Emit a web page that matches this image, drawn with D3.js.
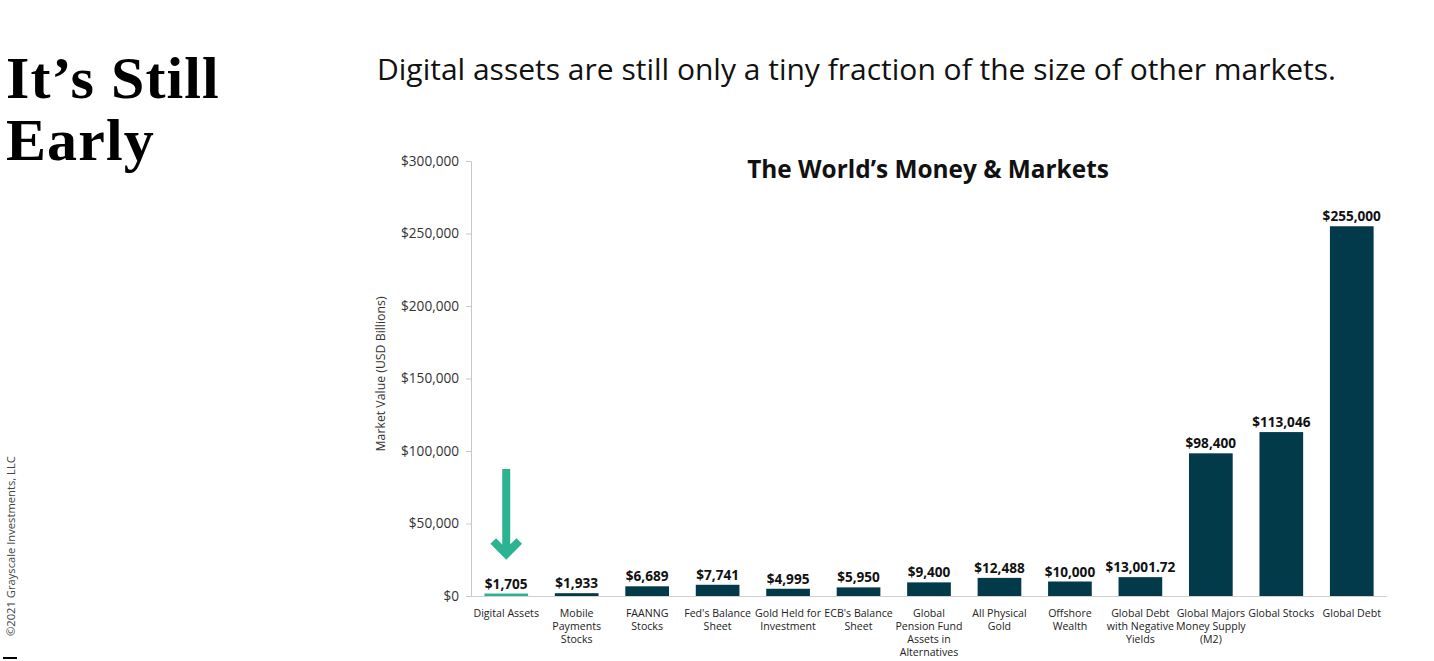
<!DOCTYPE html>
<html>
<head>
<meta charset="utf-8">
<script src="https://cdn.jsdelivr.net/npm/d3@7"></script>
<style>
  html, body { margin: 0; padding: 0; background: #fff; }
  svg { display: block; }
</style>
</head>
<body>
<svg id="chart" width="1434" height="661"></svg>
<script>
const categories = [
  ["Digital Assets"],
  ["Mobile", "Payments", "Stocks"],
  ["FAANNG", "Stocks"],
  ["Fed's Balance", "Sheet"],
  ["Gold Held for", "Investment"],
  ["ECB's Balance", "Sheet"],
  ["Global", "Pension Fund", "Assets in", "Alternatives"],
  ["All Physical", "Gold"],
  ["Offshore", "Wealth"],
  ["Global Debt", "with Negative", "Yields"],
  ["Global Majors", "Money Supply", "(M2)"],
  ["Global Stocks"],
  ["Global Debt"]
];
const values = [1705, 1933, 6689, 7741, 4995, 5950, 9400, 12488, 10000, 13001.72, 98400, 113046, 255000];
const valueLabels = ["$1,705", "$1,933", "$6,689", "$7,741", "$4,995", "$5,950", "$9,400", "$12,488", "$10,000", "$13,001.72", "$98,400", "$113,046", "$255,000"];
const yTicks = [0, 50000, 100000, 150000, 200000, 250000, 300000];

const sans = "'Open Sans', Lato, sans-serif";
const svg = d3.select("#chart");

// Left headline
const serif = "'Liberation Serif', 'DejaVu Serif', serif";
svg.append("text").attr("x", 6).attr("y", 98)
  .attr("font-family", serif).attr("font-weight", "bold")
  .attr("font-size", 60).attr("letter-spacing", 1.1).attr("fill", "#000").text("It’s Still");
svg.append("text").attr("x", 6).attr("y", 160)
  .attr("font-family", serif).attr("font-weight", "bold")
  .attr("font-size", 60).attr("letter-spacing", 1.1).attr("fill", "#000").text("Early");

// Copyright
svg.append("text").attr("transform", "translate(15,636) rotate(-90)")
  .attr("font-family", sans).attr("font-size", 11.2).attr("fill", "#444")
  .text("©2021 Grayscale Investments, LLC");
svg.append("rect").attr("x", 3).attr("y", 657).attr("width", 14).attr("height", 2).attr("fill", "#000");

// Subtitle
svg.append("text").attr("x", 377).attr("y", 80)
  .attr("font-family", sans).attr("font-size", 30).attr("fill", "#111")
  .text("Digital assets are still only a tiny fraction of the size of other markets.");

// Chart
const x = d3.scaleBand().domain(d3.range(categories.length)).range([471, 1387]).paddingInner(0.38).paddingOuter(0.19);
const y = d3.scaleLinear().domain([0, 300000]).range([596, 161]);

const yAxis = svg.append("g").attr("transform", "translate(471,0)")
  .call(d3.axisLeft(y).tickValues(yTicks).tickSize(5).tickPadding(7)
    .tickFormat(d => "$" + d3.format(",")(d)));
yAxis.select(".domain").attr("stroke", "#c8c8c8").attr("d", "M-5,161.5H0.5V596.5H-5");
yAxis.selectAll(".tick line").attr("stroke", "#c8c8c8");
yAxis.selectAll(".tick text").attr("font-family", sans).attr("font-size", 13.6).attr("fill", "#333");

svg.append("line").attr("x1", 471).attr("x2", 1387).attr("y1", 596.5).attr("y2", 596.5)
  .attr("stroke", "#d0d0d0").attr("stroke-width", 1);

svg.append("text").attr("transform", "translate(385,374) rotate(-90)")
  .attr("text-anchor", "middle").attr("font-family", sans).attr("font-size", 12.3).attr("fill", "#333")
  .text("Market Value (USD Billions)");

svg.append("text").attr("x", 928).attr("y", 178).attr("text-anchor", "middle")
  .attr("font-family", sans).attr("font-weight", "bold").attr("font-size", 24.4).attr("fill", "#111")
  .text("The World’s Money & Markets");

const colors = values.map((v, i) => i === 0 ? "#2bb392" : "#033a4a");

svg.append("g").selectAll("rect").data(values).join("rect")
  .attr("x", (d, i) => x(i)).attr("width", x.bandwidth())
  .attr("y", d => y(d)).attr("height", d => y(0) - y(d))
  .attr("fill", (d, i) => colors[i]);

svg.append("g").selectAll("text").data(values).join("text")
  .attr("x", (d, i) => x(i) + x.bandwidth() / 2)
  .attr("y", d => y(d) - 5)
  .attr("text-anchor", "middle").attr("font-family", sans).attr("font-weight", "bold")
  .attr("font-size", 13.6).attr("fill", "#111")
  .text((d, i) => valueLabels[i]);

const xl = svg.append("g").selectAll("text").data(categories).join("text")
  .attr("text-anchor", "middle").attr("font-family", sans).attr("font-size", 10.6).attr("fill", "#222");
xl.each(function(lines, i) {
  const t = d3.select(this);
  lines.forEach((l, k) => {
    t.append("tspan").attr("x", x(i) + x.bandwidth() / 2).attr("y", 617 + k * 13).text(l);
  });
});

// Arrow over Digital Assets
const ax = x(0) + x.bandwidth() / 2;
const arrow = svg.append("g").attr("stroke", "#2bb392").attr("fill", "none");
arrow.append("line").attr("x1", ax).attr("x2", ax).attr("y1", 469).attr("y2", 552).attr("stroke-width", 8);
arrow.append("path").attr("d", `M${ax - 13},${541} L${ax},${554} L${ax + 13},${541}`)
  .attr("stroke-width", 8).attr("stroke-linejoin", "miter").attr("stroke-linecap", "butt");
</script>
</body>
</html>
